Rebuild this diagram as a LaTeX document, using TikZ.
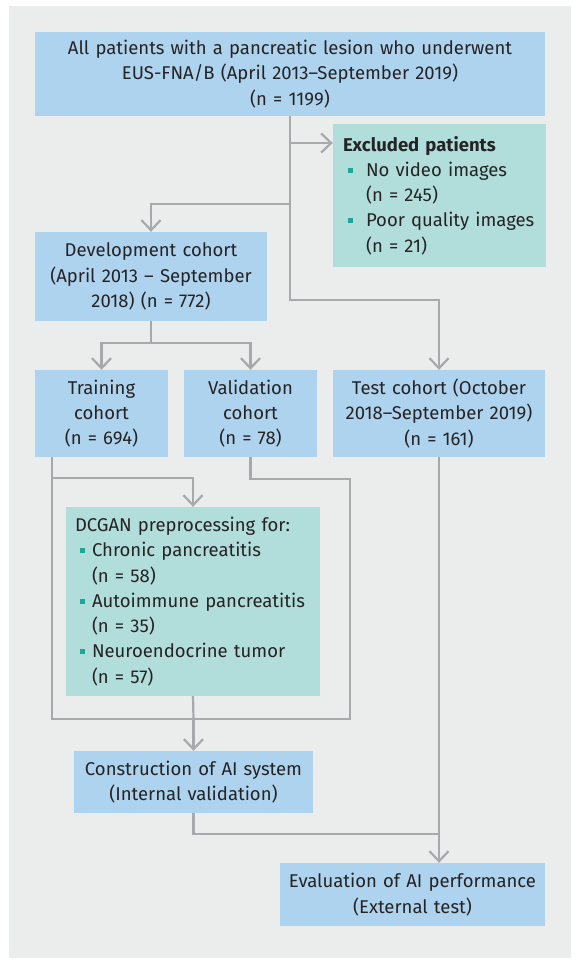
\documentclass[tikz,border=0pt]{standalone}
\usepackage{fontspec}
\setmainfont{Fira Sans}
\usetikzlibrary{arrows.meta}
\definecolor{bgc}{HTML}{EBECEC}
\definecolor{bluebox}{HTML}{AED3EE}
\definecolor{tealbox}{HTML}{B1DEDB}
\definecolor{linec}{HTML}{A7A9AC}
\definecolor{txtc}{HTML}{262324}
\definecolor{bulc}{HTML}{1FA698}
\newcommand{\exbul}{\makebox[23pt][l]{\hspace{5pt}\textcolor{bulc}{\rule[3.7pt]{5pt}{5pt}}}}
\newcommand{\dcbul}{\makebox[17pt][l]{\hspace{5pt}\textcolor{bulc}{\rule[3.7pt]{5pt}{5pt}}}}
\begin{document}
\begin{tikzpicture}[x=1pt,y=-1pt,
  every node/.style={font=\fontsize{18.5}{25.3}\selectfont, text=txtc, inner sep=0pt},
  bbox/.style={fill=bluebox, align=center},
  tbox/.style={fill=tealbox, align=left},
  conn/.style={draw=linec, line width=2.2pt},
  arr/.style={conn, -{Straight Barb[length=10pt,width=19pt,line width=2.2pt]}}
]
\useasboundingbox (0,0) rectangle (577,965);
\fill[bgc] (9,6) rectangle (571,958);

\node[bbox, minimum width=510pt, minimum height=84pt, text width=500pt] (top) at (290,74)
  {All patients with a pancreatic lesion who underwent\\EUS-FNA/B (April 2013--September 2019)\\(n = 1199)};
\node[tbox, minimum width=213pt, minimum height=143pt, text width=193pt] (exc) at (439.5,195.5)
  {\textbf{Excluded patients}\\\exbul No video images\\\hspace*{23pt}(n = 245)\\\exbul Poor quality images\\\hspace*{23pt}(n = 21)};
\node[bbox, minimum width=232pt, minimum height=89pt, text width=226pt] (dev) at (151,276.5)
  {Development cohort\\(April 2013 -- September\\2018) (n = 772)};
\node[bbox, minimum width=133pt, minimum height=87pt, text width=127pt] (train) at (101.5,413.5)
  {Training\\cohort\\(n = 694)};
\node[bbox, minimum width=133pt, minimum height=87pt, text width=127pt] (val) at (250.5,413.5)
  {Validation\\cohort\\(n = 78)};
\node[bbox, minimum width=212pt, minimum height=87pt, text width=206pt] (test) at (439,413.5)
  {Test cohort (October\\2018--September 2019)\\(n = 161)};
\node[tbox, minimum width=254pt, minimum height=189pt, text width=236pt] (dcgan) at (193,601.5)
  {DCGAN preprocessing for:\\\dcbul Chronic pancreatitis\\\hspace*{17pt}(n = 58)\\\dcbul Autoimmune pancreatitis\\\hspace*{17pt}(n = 35)\\\dcbul Neuroendocrine tumor\\\hspace*{17pt}(n = 57)};
\node[bbox, minimum width=239pt, minimum height=62pt, text width=233pt] (cons) at (193.5,782)
  {Construction of AI system\\(Internal validation)};
\node[bbox, minimum width=265pt, minimum height=63pt, text width=259pt] (eval) at (412.5,894.5)
  {Evaluation of AI performance\\(External test)};

\coordinate (je) at (290,143);
\coordinate (jd) at (290,204);
\coordinate (jt) at (290,300);
\coordinate (js) at (151,343);
\coordinate (ta) at (52,457);
\coordinate (tb) at (52,478);
\coordinate (mL) at (52,719);
\coordinate (mR) at (350,719);
\coordinate (vb) at (350,479);
\coordinate (mM) at (193.5,719);
\coordinate (ce) at (439,834);

\draw[arr] (top.south) -- (jt) -| (test.north);
\draw[arr] (je) -- (je -| exc.west);
\draw[arr] (jd) -| (dev.north);
\draw[conn] (dev.south) -- (js);
\draw[arr] (js) -| (train.north);
\draw[arr] (js) -| (val.north);
\draw[conn] (ta) -- (mL) -- (mR) -- (vb) -| (val.south);
\draw[arr] (tb) -| (dcgan.north);
\draw[conn] (dcgan.south) -- (mM);
\draw[arr] (mM) -- (cons.north);
\draw[conn] (cons.south) |- (ce);
\draw[arr] (test.south) -- (test.south |- eval.north);
\end{tikzpicture}
\end{document}
